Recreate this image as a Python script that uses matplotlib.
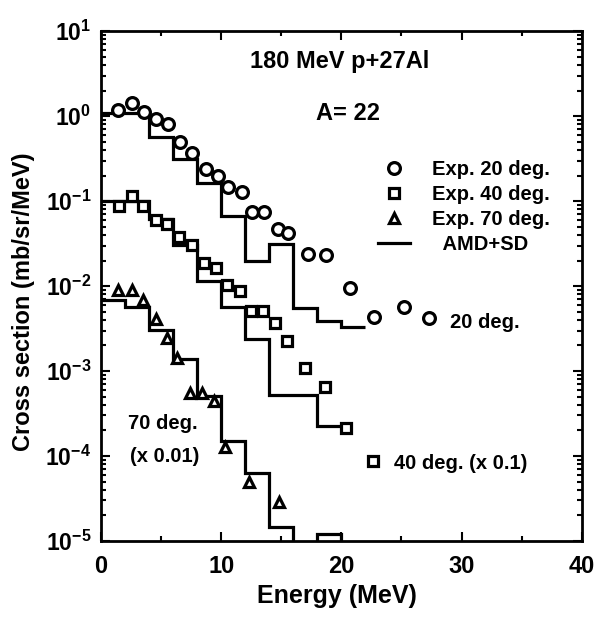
"""
Energy spectrum of A=22 fragments, 180 MeV p + 27Al.
Experimental points at 20/40/70 deg. with the AMD+SD histograms.
"""
import matplotlib
matplotlib.use("Agg")
import matplotlib.pyplot as plt
import matplotlib.ticker as mticker
import numpy as np

plt.rcParams["font.family"] = ["Liberation Sans", "DejaVu Sans"]
plt.rcParams["font.weight"] = "bold"
plt.rcParams["axes.labelweight"] = "bold"
plt.rcParams["mathtext.fontset"] = "custom"
plt.rcParams["mathtext.rm"] = "Liberation Sans:bold"
plt.rcParams["mathtext.bf"] = "Liberation Sans:bold"
plt.rcParams["mathtext.it"] = "Liberation Sans:bold:italic"

# --- experiment, 20 deg. ---
e20 = [1.4, 2.6, 3.6, 4.6, 5.6, 6.6, 7.6, 8.7, 9.7, 10.6, 11.7, 12.6,
       13.6, 14.7, 15.6, 17.2, 18.7, 20.7, 22.7, 25.2, 27.3]
xs20 = [1.18, 1.42, 1.11, 0.92, 0.81, 0.49, 0.37, 0.238, 0.197, 0.146,
        0.128, 0.0743, 0.0743, 0.0469, 0.042, 0.0238, 0.0232, 0.00946,
        0.00432, 0.00566, 0.00421]

# --- experiment, 40 deg. (x 0.1) ---
e40 = [1.5, 2.6, 3.5, 4.6, 5.5, 6.5, 7.6, 8.6, 9.6, 10.5, 11.6, 12.5,
       13.5, 14.5, 15.5, 17.0, 18.6, 20.4, 22.6]
xs40 = [0.0873, 0.1145, 0.0873, 0.0598, 0.0536, 0.0377, 0.0304, 0.0187,
        0.0163, 0.0103, 0.00873, 0.00508, 0.00508, 0.00367, 0.00225,
        0.00108, 0.000649, 0.000214, 8.7e-5]

# --- experiment, 70 deg. (x 0.01) ---
e70 = [1.4, 2.6, 3.5, 4.6, 5.5, 6.3, 7.4, 8.4, 9.4, 10.3, 12.3, 14.8]
xs70 = [0.00897, 0.00897, 0.00684, 0.00409, 0.00245, 0.00142, 0.00055,
        0.00055, 0.000444, 0.000128, 4.94e-5, 2.88e-5]

# --- AMD+SD histograms (bin edges in MeV) ---
amd20_edges = [0, 4, 6, 8, 10, 12, 14, 16, 18, 20, 22]
amd20 = [1.08, 0.566, 0.312, 0.163, 0.0667, 0.0197, 0.0312, 0.0055,
         0.00387, 0.0033]

amd40_edges = [0, 4, 6, 8, 10, 12, 14, 18, 20]
amd40 = [0.1, 0.0614, 0.0304, 0.01145, 0.00566, 0.00238, 0.000522,
         0.000225]

amd70_edges = [0, 2, 4, 6, 8, 10, 12, 14, 16, 18, 20, 22]
amd70 = [0.00684, 0.00566, 0.00303, 0.00138, 0.000508, 0.00015, 6.31e-5,
         1.46e-5, 1e-7, 1.21e-5, 1e-7]

y_decades = [-5, -4, -3, -2, -1, 0, 1]

LW = 2.3
fig = plt.figure(figsize=(6.01, 6.24), dpi=100)
ax = fig.add_axes([0.168, 0.133, 0.800, 0.817])

ax.stairs(amd20, amd20_edges, baseline=None, color="black", lw=LW)
ax.stairs(amd40, amd40_edges, baseline=None, color="black", lw=LW)
ax.stairs(amd70, amd70_edges, baseline=None, color="black", lw=LW)

mk = dict(ls="none", mfc="white", mec="black", mew=2.3)
ax.plot(e20, xs20, marker="o", ms=8.5, label="Exp. 20 deg.", **mk)
ax.plot(e40, xs40, marker="s", ms=7.2, label="Exp. 40 deg.", **mk)
ax.plot(e70, xs70, marker="^", ms=6.5, label="Exp. 70 deg.", **mk)
ax.plot([], [], color="black", lw=LW, label="  AMD+SD")

ax.set_yscale("log")
ax.set_xlim(0, 40)
ax.set_ylim(1e-5, 10)

ax.xaxis.set_major_locator(mticker.MultipleLocator(10))
ax.xaxis.set_minor_locator(mticker.MultipleLocator(5))
ax.yaxis.set_major_locator(mticker.FixedLocator([10.0 ** d for d in y_decades]))
minor = [s * 10.0 ** d for d in y_decades[:-1] for s in range(2, 10)]
ax.yaxis.set_minor_locator(mticker.FixedLocator(minor))
ax.yaxis.set_minor_formatter(mticker.NullFormatter())
ax.yaxis.set_major_formatter(mticker.FuncFormatter(
    lambda v, p: r"$\mathbf{10}^{\mathbf{%d}}$" % round(np.log10(v))))

ax.tick_params(which="both", direction="in", top=True, right=True,
               width=1.5)
ax.tick_params(which="major", length=6.5)
ax.tick_params(which="minor", length=3.8)
ax.tick_params(axis="x", labelsize=17, pad=10)
ax.tick_params(axis="y", labelsize=16.5, pad=7)
for sp in ax.spines.values():
    sp.set_linewidth(2.0)

ax.set_xlabel("Energy (MeV)", fontsize=18, va="center")
ax.xaxis.set_label_coords(0.49, -0.108)
ax.set_ylabel("Cross section (mb/sr/MeV)", fontsize=17, va="center")
ax.yaxis.set_label_coords(-0.162, 0.469)

ax.text(0.497, 0.941, "180 MeV p+27Al", transform=ax.transAxes,
        fontsize=17, ha="center", va="center")
ax.text(0.514, 0.839, "A= 22", transform=ax.transAxes,
        fontsize=17, ha="center", va="center")
ax.text(0.726, 0.429, "20 deg.", transform=ax.transAxes,
        fontsize=14.5, va="center")
ax.text(0.609, 0.153, "40 deg. (x 0.1)", transform=ax.transAxes,
        fontsize=14.5, va="center")
ax.text(0.056, 0.231, "70 deg.", transform=ax.transAxes,
        fontsize=14.5, va="center")
ax.text(0.060, 0.165, "(x 0.01)", transform=ax.transAxes,
        fontsize=14.5, va="center")

ax.legend(loc="upper left", bbox_to_anchor=(0.576, 0.748), frameon=False,
          fontsize=14.5, borderpad=0, borderaxespad=0, handlelength=1.6,
          handletextpad=1.1, labelspacing=0.3)

fig.savefig("out.png", dpi=100)
